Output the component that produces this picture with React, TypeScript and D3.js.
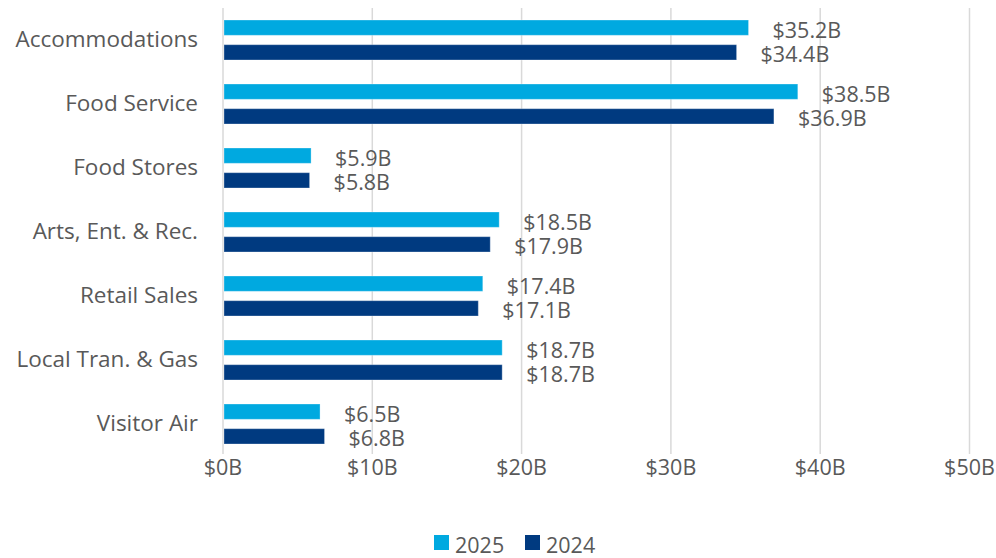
import React from "react";
import * as d3 from "d3";

const categories = [
  "Accommodations",
  "Food Service",
  "Food Stores",
  "Arts, Ent. & Rec.",
  "Retail Sales",
  "Local Tran. & Gas",
  "Visitor Air",
];
const values2025 = [35.2, 38.5, 5.9, 18.5, 17.4, 18.7, 6.5];
const values2024 = [34.4, 36.9, 5.8, 17.9, 17.1, 18.7, 6.8];
const seriesNames = ["2025", "2024"];
const colors = ["#00A9E0", "#003A80"];
const xTicks = [0, 10, 20, 30, 40, 50];

const W = 996;
const H = 558;
const margin = { top: 8, right: 26, bottom: 102, left: 223 };
const font = "'Open Sans', 'Noto Sans', sans-serif";
const textColor = "#595959";

const App = () => {
  const x = d3
    .scaleLinear()
    .domain([0, 50])
    .range([margin.left, W - margin.right - 0.5]);
  const y = d3
    .scaleBand()
    .domain(categories)
    .range([margin.top, H - margin.bottom])
    .paddingInner(0)
    .paddingOuter(0);
  const inner = d3
    .scaleBand()
    .domain(seriesNames)
    .range([12, y.bandwidth() - 12])
    .paddingInner(0.38);
  const series = [values2025, values2024];
  const fmt = (v: number) => `$${v.toFixed(1)}B`;

  return (
    <svg
      width={W}
      height={H}
      style={{ position: "absolute", left: 0, top: 0, background: "#fff" }}
      fontFamily={font}
    >
      {xTicks.map((t) => (
        <g key={t}>
          <line
            x1={x(t)}
            x2={x(t)}
            y1={margin.top}
            y2={H - margin.bottom - 2}
            stroke="#D9D9D9"
            strokeWidth={1.5}
          />
          <text
            x={x(t)}
            y={466}
            textAnchor="middle"
            dominantBaseline="central"
            fontSize={21.5}
            fill={textColor}
          >
            {`$${t}B`}
          </text>
        </g>
      ))}
      {categories.map((c, i) => (
        <g key={c}>
          <text
            x={198}
            y={(y(c) ?? 0) + y.bandwidth() / 2 - 1.5}
            textAnchor="end"
            dominantBaseline="central"
            fontSize={22.5}
            fill={textColor}
          >
            {c}
          </text>
          {series.map((vals, s) => {
            const by = (y(c) ?? 0) + (inner(seriesNames[s]) ?? 0);
            return (
              <g key={s}>
                <rect
                  x={x(0) + 1}
                  y={by}
                  width={x(vals[i]) - x(0) - 1}
                  height={inner.bandwidth()}
                  fill={colors[s]}
                  stroke="#ffffff"
                  strokeOpacity={0.3}
                  strokeWidth={1}
                />
                <text
                  x={x(vals[i]) + 24}
                  y={by + inner.bandwidth() / 2 + 1.5}
                  dominantBaseline="central"
                  fontSize={21.5}
                  fill={textColor}
                >
                  {fmt(vals[i])}
                </text>
              </g>
            );
          })}
        </g>
      ))}
      <g>
        {seriesNames.map((n, s) => {
          const lx = 434 + s * 91;
          return (
            <g key={n}>
              <rect x={lx} y={535} width={15} height={15} fill={colors[s]} />
              <text
                x={lx + 21}
                y={544.5}
                dominantBaseline="central"
                fontSize={21.5}
                fill={textColor}
              >
                {n}
              </text>
            </g>
          );
        })}
      </g>
    </svg>
  );
};

export default App;
